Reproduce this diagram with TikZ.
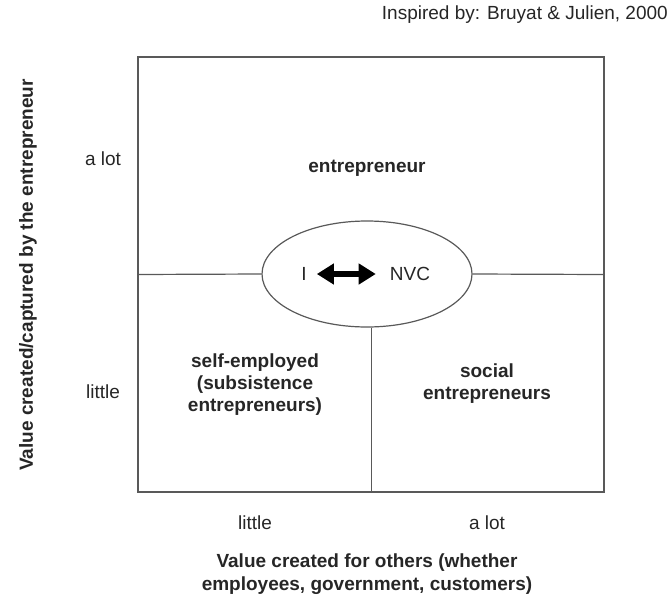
\documentclass[tikz,border=0pt]{standalone}
\usepackage{fontspec}
\setmainfont{Liberation Sans}
\usetikzlibrary{shapes.geometric,arrows.meta}

\tikzset{
  rule/.style={draw=black!65, line width=1.2pt},
  lbl/.style={font=\fontsize{19}{22}\selectfont, text=black!85, inner sep=0pt},
  hdr/.style={lbl, font=\fontsize{19}{22}\selectfont\bfseries, align=center},
  dbl/.style={line width=5.5pt, {Triangle[length=17pt,width=20pt]}-{Triangle[length=17pt,width=20pt]}},
}

\begin{document}
\begin{tikzpicture}[x=1pt,y=-1pt]
  \useasboundingbox (0,0) rectangle (671,597);
  % quadrant frame and centre ellipse
  \node[rule, minimum width=466, minimum height=435, inner sep=0pt] (grid) at (371,274.5) {};
  \node[rule, ellipse, fill=white, minimum width=210, minimum height=106, inner sep=0pt] (nvc) at (367,274) {};
  \draw[rule] (grid.west) -- (nvc.west);
  \draw[rule] (nvc.east) -- (grid.east);
  \draw[rule] (nvc.275) -- (nvc.275 |- grid.south);
  % inside the ellipse
  \node[lbl] (indiv) at (304,274) {I};
  \node[lbl] (nvclbl) at (410,274) {NVC};
  \draw[dbl] ([xshift=10pt]indiv.east) -- ([xshift=-14pt]nvclbl.west);
  % quadrant names
  \node[hdr] (entr) at (367,168) {entrepreneur};
  \node[hdr] (self) at (255,385) {self-employed\\(subsistence\\entrepreneurs)};
  \node[hdr] (social) at (487,384) {social\\entrepreneurs};
  % axis levels
  \node[lbl] (ylot) at (103,159) {a lot};
  \node[lbl] (ylittle) at (103,392) {little};
  \node[lbl] (xlittle) at (255,523) {little};
  \node[lbl] (xlot) at (487,523) {a lot};
  % axis titles and source
  \node[hdr, rotate=90] (ytitle) at (28,275) {Value created/captured by the entrepreneur};
  \node[hdr, font=\fontsize{19}{23}\selectfont\bfseries] (xtitle) at (367,574) {Value created for others (whether\\employees, government, customers)};
  \node[lbl, anchor=east] (source) at (668,15) {Inspired by: Bruyat \& Julien, 2000};
\end{tikzpicture}
\end{document}
